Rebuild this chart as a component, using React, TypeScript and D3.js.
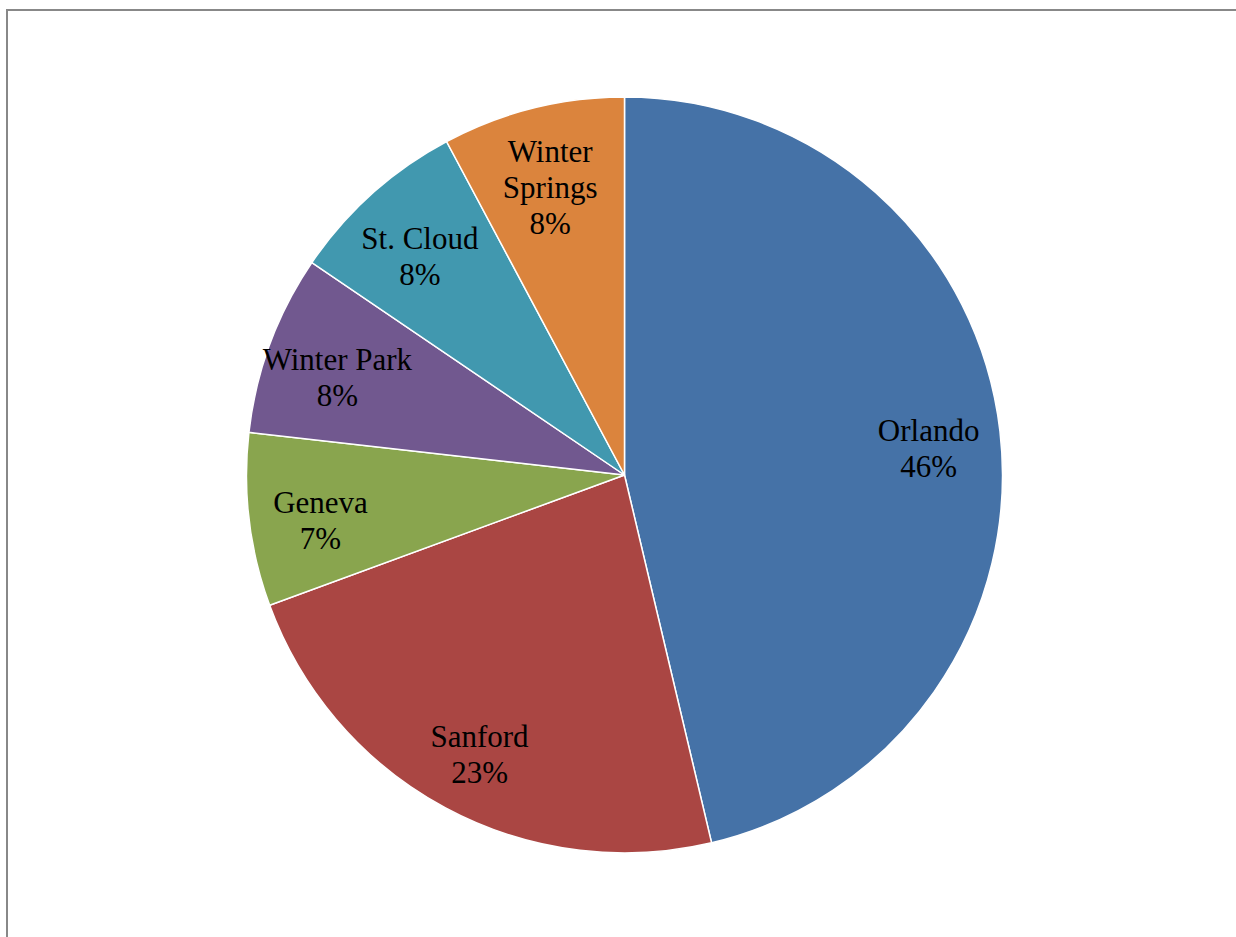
import React from "react";
import * as d3 from "d3";

const categories = ["Orlando", "Sanford", "Geneva", "Winter Park", "St. Cloud", "Winter Springs"];
const values = [46.3, 23.1, 7.4, 7.7, 7.7, 7.8];
const colors = ["#4572A7", "#AA4643", "#89A54E", "#71588F", "#4198AF", "#DB843D"];
const labelLines = [["Orlando"], ["Sanford"], ["Geneva"], ["Winter Park"], ["St. Cloud"], ["Winter", "Springs"]];

export default function App() {
  const W = 1236, H = 937;
  const cx = 624.5, cy = 475, R = 378;
  const total = d3.sum(values);
  const data = categories.map((c, i) => ({ c, v: values[i], i }));
  const pie = d3.pie<any>().value((d) => d.v).sort(null);
  const arcs = pie(data);
  const arc = d3.arc<any>().innerRadius(0).outerRadius(R);
  const labelArc = d3.arc<any>().innerRadius(R * 0.81).outerRadius(R * 0.81);
  const lh = 36;
  const shiftY = 9;
  return (
    <svg width={W} height={H} style={{ position: "absolute", left: 0, top: 0 }} fontFamily="'Liberation Serif', 'Times New Roman', serif">
      <rect x={0} y={0} width={W} height={H} fill="#fff" />
      <rect x={7} y={10} width={W + 20} height={H + 20} fill="none" stroke="#888888" strokeWidth={2} />
      <g transform={`translate(${cx},${cy})`}>
        {arcs.map((a, i) => (
          <path key={i} d={arc(a) as string} fill={colors[i]} stroke="#fff" strokeWidth={1.5} />
        ))}
        {arcs.map((a, i) => {
          const [lx, ly] = labelArc.centroid(a);
          const lines = [...labelLines[i], `${Math.round((values[i] / total) * 100)}%`];
          const y0 = ly + shiftY - ((lines.length - 1) * lh) / 2;
          return (
            <text key={"t" + i} x={lx} y={y0} textAnchor="middle" fontSize={31} fill="#000">
              {lines.map((l, j) => (
                <tspan key={j} x={lx} y={y0 + j * lh} dy="0.35em">{l}</tspan>
              ))}
            </text>
          );
        })}
      </g>
    </svg>
  );
}
